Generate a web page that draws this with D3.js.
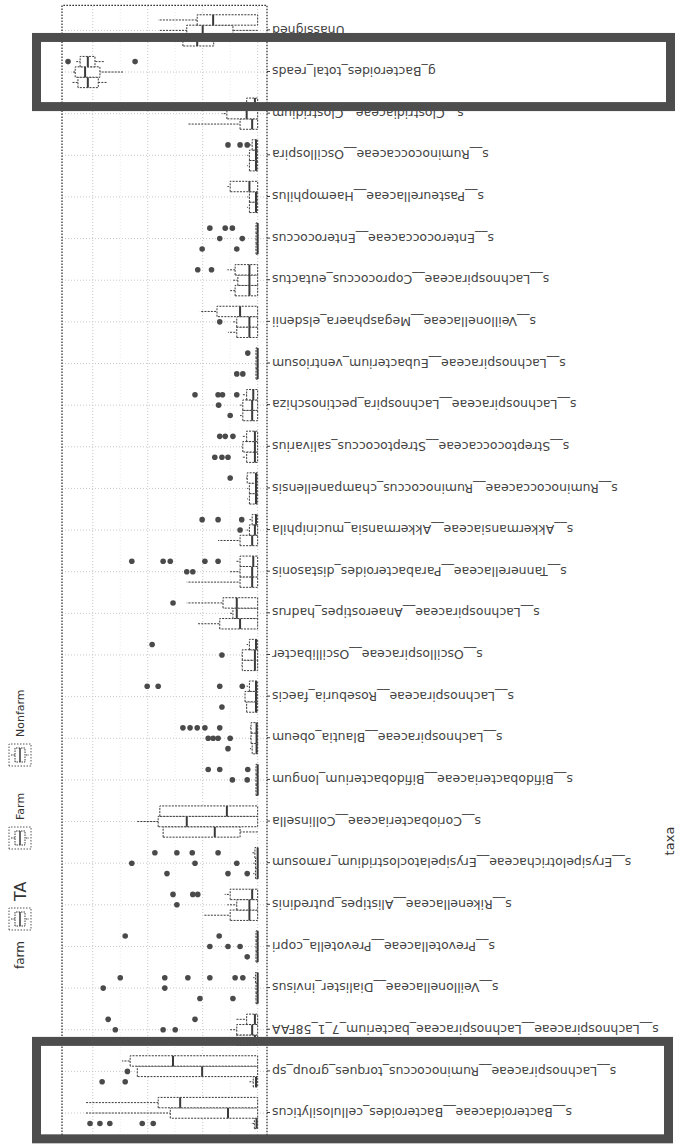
<!DOCTYPE html>
<html>
<head>
<meta charset="utf-8">
<script src="https://cdn.jsdelivr.net/npm/d3@7"></script>
<style>
  body { margin: 0; background: #fff; }
  svg { display: block; font-family: "DejaVu Sans", sans-serif; }
</style>
</head>
<body>
<svg id="chart"></svg>
<script>
// taxa, left to right on the (unrotated) x axis
const taxa = [
  "s__Bacteroidaceae__Bacteroides_cellulosilyticus",
  "s__Lachnospiraceae__Ruminococcus_torques_group_sp",
  "s__Lachnospiraceae__Lachnospiraceae_bacterium_7_1_58FAA",
  "s__Veillonellaceae__Dialister_invisus",
  "s__Prevotellaceae__Prevotella_copri",
  "s__Rikenellaceae__Alistipes_putredinis",
  "s__Erysipelotrichaceae__Erysipelatoclostridium_ramosum",
  "s__Coriobacteriaceae__Collinsella",
  "s__Bifidobacteriaceae__Bifidobacterium_longum",
  "s__Lachnospiraceae__Blautia_obeum",
  "s__Lachnospiraceae__Roseburia_faecis",
  "s__Oscillospiraceae__Oscillibacter",
  "s__Lachnospiraceae__Anaerostipes_hadrus",
  "s__Tannerellaceae__Parabacteroides_distasonis",
  "s__Akkermansiaceae__Akkermansia_muciniphila",
  "s__Ruminococcaceae__Ruminococcus_champanellensis",
  "s__Streptococcaceae__Streptococcus_salivarius",
  "s__Lachnospiraceae__Lachnospira_pectinoschiza",
  "s__Lachnospiraceae__Eubacterium_ventriosum",
  "s__Veillonellaceae__Megasphaera_elsdenii",
  "s__Lachnospiraceae__Coprococcus_eutactus",
  "s__Enterococcaceae__Enterococcus",
  "s__Pasteurellaceae__Haemophilus",
  "s__Ruminococcaceae__Oscillospira",
  "s__Clostridiaceae__Clostridium",
  "g_Bacteroides_total_reads",
  "Unassigned"
];

const groups = ["TA", "Farm", "Nonfarm"];

// box stats per taxon: [q1, median, q3, whisker low, whisker high]
const taStats = [
  [0, 0.2, 0.6, 0, 1.2], [0, 0.3, 0.8, 0, 1.5], [0, 0.5, 3.8, 0, 6.0], [0, 0, 0.3, 0, 0.6],
  [0, 0, 0.3, 0, 0.5], [0, 1.5, 5.0, 0, 9.9], [0, 0, 0.4, 0, 0.8], [3.2, 7.8, 17.2, 0, 17.2],
  [0, 0, 0.3, 0, 0.5], [0, 0.2, 1.0, 0, 1.4], [0, 0.3, 2.0, 0, 2.3], [0, 0.5, 2.8, 0, 3.0],
  [0, 3.2, 6.9, 0, 11.0], [0, 1.0, 3.2, 0, 12.9], [0, 1.0, 3.2, 0, 7.2], [0, 0.3, 1.5, 0, 1.9],
  [0, 0.5, 2.0, 0, 2.7], [0, 1.0, 2.7, 0, 3.2], [0, 0, 0.3, 0, 0.5], [0, 1.5, 3.8, 0, 5.4],
  [0, 1.5, 4.1, 0, 5.0], [0, 0, 0.3, 0, 0.5], [0, 0.3, 1.5, 0, 1.9], [0, 0.3, 1.5, 0, 1.9],
  [0, 1.0, 3.2, 0, 12.7], [29.0, 30.9, 32.7, 27.5, 33.8], [8.0, 11.0, 13.6, 3.0, 16.0]
];
const farmStats = [
  [0, 5.4, 15.9, 0, 31.4], [0, 10.1, 21.9, 0, 21.9], [0, 1.0, 3.8, 0, 5.0], [0, 0, 0.3, 0, 0.6],
  [0, 0, 0.3, 0, 0.6], [0, 1.5, 3.8, 0, 5.5], [0, 0, 0.4, 0, 0.8], [0, 12.9, 18.1, 0, 21.9],
  [0, 0, 0.3, 0, 0.6], [0, 0.2, 1.2, 0, 1.4], [0, 0.3, 2.3, 0, 2.3], [0, 0.5, 2.8, 0, 3.0],
  [0, 3.8, 4.5, 0, 5.0], [0, 1.0, 3.2, 0, 5.0], [0, 0.5, 1.5, 0, 2.0], [0, 0.3, 1.5, 0, 1.9],
  [0, 0.5, 2.7, 0, 3.0], [0, 1.0, 2.7, 0, 3.2], [0, 0, 0.3, 0, 0.5], [0, 1.5, 3.8, 0, 4.5],
  [0, 1.5, 3.6, 0, 4.5], [0, 0, 0.3, 0, 0.5], [0, 0.3, 1.5, 0, 1.9], [0, 0.3, 1.5, 0, 1.9],
  [0, 2.0, 5.6, 0, 6.5], [28.7, 31.4, 33.2, 24.5, 33.6], [4.5, 10.0, 12.9, 0, 17.8]
];
const nonfarmStats = [
  [0, 14.1, 18.1, 0, 31.4], [0, 15.4, 23.2, 0, 24.7], [0, 0.5, 2.0, 0, 4.0], [0, 0, 0.4, 0, 0.8],
  [0, 0, 0.3, 0, 0.6], [0, 1.0, 5.0, 0, 6.0], [0, 0, 0.5, 0, 1.0], [0, 5.6, 17.8, 0, 17.8],
  [0, 0, 0.3, 0, 0.6], [0, 0.2, 1.2, 0, 1.4], [0, 0.3, 1.5, 0, 2.0], [0, 0.3, 1.5, 0, 2.0],
  [0, 3.8, 6.3, 0, 12.9], [0, 0.8, 3.2, 0, 4.0], [0, 0.3, 1.0, 0, 1.5], [0, 0.3, 1.9, 0, 2.3],
  [0, 0.5, 2.0, 0, 2.7], [0, 0.8, 2.0, 0, 2.7], [0, 0, 0.3, 0, 0.5], [0, 3.2, 7.4, 0, 10.5],
  [0, 1.5, 4.1, 0, 5.5], [0, 0, 0.3, 0, 0.5], [0, 1.5, 5.0, 0, 5.5], [0, 0.3, 1.0, 0, 1.5],
  [0, 0.5, 2.0, 0, 3.0], [29.6, 30.9, 32.3, 28.0, 33.0], [0, 8.1, 11.0, 0, 18.1]
];

// outlying points per taxon
const taOutliers = [
  [30.5, 28.7, 26.9, 21.0, 19.0], [28.3, 24.1], [], [10.5, 4.5], [1.9], [], [16.5, 5.4, 1.9], [],
  [], [5.4], [6.5], [], [], [], [], [], [7.8, 6.5, 5.4], [5.0], [3.8, 2.7], [], [], [10.1, 3.8],
  [], [], [], [], []
];
const farmOutliers = [
  [], [23.7], [25.9, 17.2, 15.0], [28.1, 16.9], [8.7, 5.4, 3.2], [14.7], [22.9, 11.4, 3.8], [],
  [4.6, 1.9], [9.0, 8.1, 7.2, 5.0], [], [6.5], [], [12.9, 11.8], [3.2], [], [], [7.1], [], [6.9],
  [], [6.9, 2.8], [], [], [], [], []
];
const nonfarmOutliers = [
  [], [], [27.2, 11.4], [25.0, 16.9, 12.7, 8.7, 4.1, 2.7], [24.1, 7.0], [15.4, 11.8, 10.9],
  [18.7, 14.7, 11.9, 7.2], [], [9.0, 6.9, 1.8], [13.6, 12.3, 11.0, 9.6, 6.9], [20.1, 18.1, 6.9, 2.8],
  [19.2], [15.4], [22.9, 17.2, 15.9, 9.6, 7.2], [10.1, 7.2, 2.9], [5.0], [6.9, 5.9, 4.5],
  [11.4, 7.2, 6.4, 3.8], [1.8], [], [10.9, 8.4], [8.7, 5.9, 4.6], [], [5.4, 3.2, 1.9], [],
  [34.5, 22.3], []
];

const majorTicks = [0, 10, 20, 30];
const minorTicks = [5, 15, 25];
// taxa that the figure marks with a heavy frame (first, last index)
const highlighted = [[25, 25], [0, 1]];

const statsByGroup = {TA: taStats, Farm: farmStats, Nonfarm: nonfarmStats};
const outByGroup = {TA: taOutliers, Farm: farmOutliers, Nonfarm: nonfarmOutliers};

const W = 676, H = 1146;
const svg = d3.select("#chart").attr("width", W).attr("height", H);

// the whole figure is drawn upright and turned a quarter turn to the left
const g = svg.append("g").attr("transform", `translate(0, ${H}) rotate(-90)`);

const panel = {left: 8, right: 1140.6, top: 62, bottom: 267};
const ink = "#3a3a3a";

const xScale = d3.scalePoint().domain(taxa).range([panel.left, panel.right]).padding(0.6);
const step = xScale.step();
const dodge = d3.scaleBand().domain(groups).range([-0.375 * step, 0.375 * step]);
const bw = dodge.bandwidth();
const yScale = d3.scaleLinear().domain([-1.7, 35.6]).range([panel.bottom, panel.top]);

// grid
const grid = g.append("g");
grid.selectAll("line.minor")
  .data(minorTicks)
  .join("line")
  .attr("x1", panel.left).attr("x2", panel.right)
  .attr("y1", d => yScale(d)).attr("y2", d => yScale(d))
  .attr("stroke", "#e4e4e4").attr("stroke-width", 0.8).attr("stroke-dasharray", "1,2");
grid.selectAll("line.major")
  .data(majorTicks)
  .join("line")
  .attr("x1", panel.left).attr("x2", panel.right)
  .attr("y1", d => yScale(d)).attr("y2", d => yScale(d))
  .attr("stroke", "#c8c8c8").attr("stroke-width", 1).attr("stroke-dasharray", "1,2");
grid.selectAll("line.taxon")
  .data(taxa)
  .join("line")
  .attr("x1", d => xScale(d)).attr("x2", d => xScale(d))
  .attr("y1", panel.top).attr("y2", panel.bottom)
  .attr("stroke", "#c8c8c8").attr("stroke-width", 1).attr("stroke-dasharray", "1,2");

// boxes
const boxes = [];
taxa.forEach((t, i) => {
  groups.forEach(grp => {
    const s = statsByGroup[grp][i];
    boxes.push({
      taxon: t, group: grp,
      q1: s[0], med: s[1], q3: s[2], lo: s[3], hi: s[4],
      out: outByGroup[grp][i]
    });
  });
});
const cx = d => xScale(d.taxon) + dodge(d.group) + bw / 2;

const boxG = g.append("g").selectAll("g").data(boxes).join("g");
boxG.append("line")
  .attr("x1", cx).attr("x2", cx)
  .attr("y1", d => yScale(d.lo)).attr("y2", d => yScale(d.hi))
  .attr("stroke", ink).attr("stroke-width", 1).attr("stroke-dasharray", "2,1.2");
boxG.append("rect")
  .attr("x", d => cx(d) - bw / 2)
  .attr("width", bw)
  .attr("y", d => yScale(d.q3))
  .attr("height", d => Math.max(0.8, yScale(d.q1) - yScale(d.q3)))
  .attr("fill", "#fff")
  .attr("stroke", ink).attr("stroke-width", 1).attr("stroke-dasharray", "2,1.2");
boxG.append("line")
  .attr("x1", d => cx(d) - bw / 2).attr("x2", d => cx(d) + bw / 2)
  .attr("y1", d => yScale(d.med)).attr("y2", d => yScale(d.med))
  .attr("stroke", ink).attr("stroke-width", 2);
boxG.selectAll("circle")
  .data(d => d.out.map(v => ({x: cx(d), v})))
  .join("circle")
  .attr("cx", d => d.x)
  .attr("cy", d => yScale(d.v))
  .attr("r", 2.8)
  .attr("fill", "#4a4a4a");

// panel frame
g.append("rect")
  .attr("x", panel.left).attr("y", panel.top)
  .attr("width", panel.right - panel.left).attr("height", panel.bottom - panel.top)
  .attr("fill", "none")
  .attr("stroke", "#222").attr("stroke-width", 1.2).attr("stroke-dasharray", "1.5,1.5");

// taxa axis
const xAxis = g.append("g")
  .attr("transform", `translate(0, ${panel.bottom})`)
  .call(d3.axisBottom(xScale).tickSize(3));
xAxis.select(".domain").remove();
xAxis.selectAll(".tick line").attr("stroke", ink);
xAxis.selectAll(".tick text")
  .attr("x", -5).attr("y", 0).attr("dy", "0.35em")
  .attr("transform", "rotate(-90)")
  .attr("text-anchor", "end")
  .attr("fill", "#444")
  .style("font-size", "12.5px")
  .style("font-family", "DejaVu Sans, sans-serif");

g.append("text")
  .attr("x", 305).attr("y", 674)
  .attr("text-anchor", "middle")
  .attr("fill", "#333")
  .style("font-size", "13px")
  .text("taxa");

// legend
const legend = g.append("g").attr("transform", "translate(0, 20)");
legend.append("text")
  .attr("x", 177).attr("dy", "0.35em")
  .attr("fill", "#333").style("font-size", "12px")
  .text("farm");
const keyX = {TA: 216, Farm: 297, Nonfarm: 380};
const keySize = 22;
const key = legend.selectAll("g.key").data(groups).join("g")
  .attr("transform", d => `translate(${keyX[d]}, ${-keySize / 2})`);
key.append("rect")
  .attr("width", keySize).attr("height", keySize)
  .attr("fill", "#fff").attr("stroke", "#555").attr("stroke-dasharray", "1.5,1.5");
key.append("line")
  .attr("x1", keySize / 2).attr("x2", keySize / 2)
  .attr("y1", 2).attr("y2", keySize - 2)
  .attr("stroke", ink).attr("stroke-dasharray", "1.5,1");
key.append("rect")
  .attr("x", 4).attr("y", 6).attr("width", keySize - 8).attr("height", keySize - 12)
  .attr("fill", "#fff").attr("stroke", ink).attr("stroke-dasharray", "1.5,1");
key.append("line")
  .attr("x1", 4).attr("x2", keySize - 4)
  .attr("y1", keySize / 2).attr("y2", keySize / 2)
  .attr("stroke", ink).attr("stroke-width", 1.5);
legend.selectAll("text.lab").data(groups).join("text")
  .attr("x", d => keyX[d] + keySize + 7)
  .attr("dy", "0.35em")
  .attr("fill", "#333")
  .style("font-size", d => d === "TA" ? "16px" : "11px")
  .text(d => d);

// heavy frames marking taxa of interest
g.append("g").selectAll("rect")
  .data(highlighted)
  .join("rect")
  .attr("x", d => xScale(taxa[d[0]]) - (d[0] === d[1] ? 0.83 : 0.62) * step)
  .attr("width", d => xScale(taxa[d[1]]) - xScale(taxa[d[0]]) + (d[0] === d[1] ? 1.66 : 1.34) * step)
  .attr("y", 36.5)
  .attr("height", d => d[0] === d[1] ? 634 : 632)
  .attr("fill", "none")
  .attr("stroke", "#4d4d4d").attr("stroke-width", 9);
</script>
</body>
</html>
